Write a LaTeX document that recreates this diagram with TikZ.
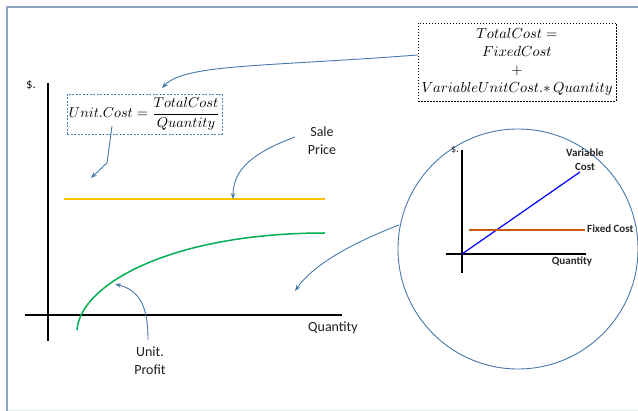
\documentclass[tikz,border=0pt]{standalone}
\usepackage{amsmath}
\usepackage{graphicx}
\usepackage{fontspec}
\setmainfont{Carlito}
\usetikzlibrary{arrows.meta}
\definecolor{framec}{RGB}{140,165,195}
\definecolor{faintc}{RGB}{225,232,240}
\definecolor{linkc}{RGB}{70,120,170}
\definecolor{boxc}{RGB}{70,130,190}
\definecolor{salec}{RGB}{255,192,0}
\definecolor{profitc}{RGB}{0,176,80}
\definecolor{fixedc}{RGB}{197,90,17}
\definecolor{varc}{RGB}{0,0,255}
\definecolor{txtc}{RGB}{30,30,30}
\definecolor{smalltxt}{RGB}{40,40,40}
\tikzset{
  link/.style={draw=linkc, line width=0.9pt, -{Stealth[length=6pt,width=4.5pt]}},
  axis/.style={draw=black, line width=1.8pt},
  lbl/.style={font=\fontsize{14}{18}\selectfont, text=txtc, align=center, inner sep=0pt},
  smalllbl/.style={font=\fontsize{11}{14}\selectfont\bfseries, text=smalltxt, align=center, inner sep=0pt},
  mathbox/.style={draw=boxc, dash pattern=on 2pt off 1.5pt, line width=0.8pt, inner sep=0pt},
  formbox/.style={draw=black, dash pattern=on 1.5pt off 1.5pt, line width=0.8pt, inner sep=0pt, align=center}
}
\begin{document}
\begin{tikzpicture}[x=1pt,y=-1pt]
\useasboundingbox (0,0) rectangle (638,411);
% frame
\draw[framec, line width=1.8pt] (7,411) -- (7,7) -- (638,7);
\draw[faintc, line width=1pt] (8,410.4) -- (638,410.4);

% main axes
\coordinate (ytop) at (48,83);
\coordinate (ybot) at (48,341);
\coordinate (xl) at (25,315);
\coordinate (xr) at (342,315);
\draw[axis] (ytop) -- (ybot);
\draw[axis] (xl) -- (xr);
\node[lbl, font=\fontsize{13}{16}\selectfont] (dollar) at (31,85) {\$.};
\node[lbl] (quantity) at (333,328) {Quantity};

% sale price line
\coordinate (s1) at (64,199);
\coordinate (s2) at (325,199);
\draw[salec, line width=1.3pt] (s1) -- (s2);

% unit profit curve
\coordinate (p1) at (77,330);
\coordinate (p2) at (325,233);
\draw[profitc, line width=1.5pt] (p1) .. controls (80,285) and (170,233) .. (p2);

% unit cost box
\node[mathbox, minimum width=155pt, minimum height=40pt] (uc) at (144.5,114)
  {\resizebox{151pt}{!}{\fontsize{10}{12}\selectfont$Unit.Cost=\dfrac{TotalCost}{Quantity}$}};

% total cost box
\node[formbox, minimum width=198pt, minimum height=78pt] (tc) at (517,62)
  {\resizebox{191pt}{!}{\fontsize{10}{12}\selectfont\begin{tabular}{@{}c@{}}
   $TotalCost=$\\[0.3pt]
   $FixedCost$\\[0.3pt]
   $+$\\[0.3pt]
   $VariableUnitCost.{\ast}\,Quantity$\end{tabular}}};

% labels
\node[lbl] (sale) at (322,141) {Sale\\Price};
\node[lbl] (profit) at (150,361) {Unit.\\Profit};

% zoom circle
\node[draw=linkc, line width=0.9pt, circle, minimum size=240pt, inner sep=0pt] (circ) at (518,249) {};

% small chart
\coordinate (sytop) at (462,150);
\coordinate (sybot) at (462,273);
\coordinate (sxl) at (446,254);
\coordinate (sxr) at (586,254);
\draw[axis, line width=1.5pt] (sytop) -- (sybot);
\draw[axis, line width=1.5pt] (sxl) -- (sxr);
\coordinate (v1) at (462,254);
\coordinate (v2) at (580,172);
\draw[varc, line width=1.2pt] (v1) -- (v2);
\coordinate (f1) at (469,230);
\coordinate (f2) at (585,230);
\draw[fixedc, line width=1.2pt] (f1) -- (f2);
\node[font=\fontsize{10}{12}\selectfont, text=smalltxt, inner sep=0pt] (sdollar) at (455,150) {\$.};
\node[smalllbl, anchor=west] (fixedl) at (587,229) {Fixed Cost};
\node[smalllbl] (varl) at (585,159.5) {Variable\\Cost};
\node[smalllbl] (squant) at (572,262) {Quantity};

% connectors
\coordinate (tcA) at (tc.west |- 0,55);
\coordinate (tcTip) at (162,88);
\draw[link] (tcA) .. controls (260,67) and (185,64) .. (tcTip);

\coordinate (ucA) at (112,126);
\coordinate (ucB) at (107,163);
\coordinate (ucTip) at (91,178);
\draw[link] (ucA) -- (ucB) -- (ucTip);

\coordinate (saleA) at (295,137);
\coordinate (saleTip) at (233,199);
\draw[link] (saleA) .. controls (255,152) and (233,168) .. (saleTip);

\coordinate (profA) at (148,340);
\coordinate (profTip) at (115,284);
\draw[link] (profA) .. controls (148,310) and (142,291) .. (profTip);

\coordinate (circA) at (399,225);
\coordinate (circTip) at (295,291);
\draw[link] (circA) .. controls (360,240) and (315,262) .. (circTip);
\end{tikzpicture}
\end{document}
